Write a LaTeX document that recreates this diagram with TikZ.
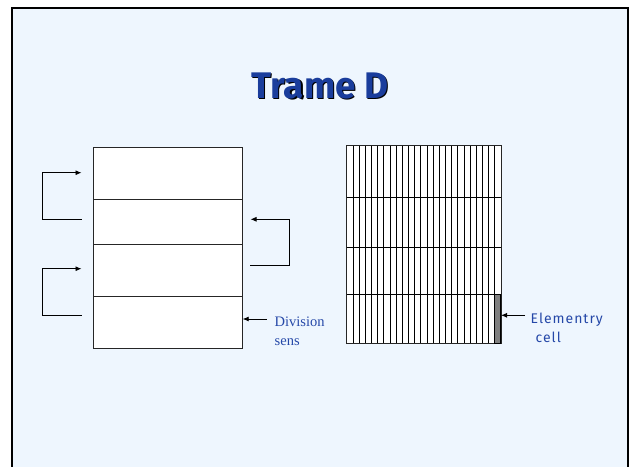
\documentclass[tikz,border=0pt]{standalone}
\usepackage{fontspec}
\setmainfont{Liberation Serif}
\newfontfamily\titlefont{Fira Sans}
\usetikzlibrary{arrows.meta,positioning}
\definecolor{slidebg}{HTML}{EEF6FE}
\definecolor{titleblue}{HTML}{1A3D9C}
\definecolor{noteblue}{HTML}{2548A8}
\tikzstyle{row}=[draw=black!85, fill=white, line width=0.8pt, minimum width=149.4pt, inner sep=0pt, outer sep=0pt, anchor=north west]
\tikzstyle{loop}=[-{Latex[length=6pt,width=5pt]}, line width=0.8pt]
\tikzstyle{note}=[text=noteblue, align=left, anchor=west, inner sep=0pt]

\begin{document}
\begin{tikzpicture}[x=1pt,y=-1pt]
    \useasboundingbox (0,0) rectangle (631,466);
    \fill[white] (0,0) rectangle (631,466);
    \filldraw[fill=slidebg, draw=black, line width=2pt] (12,8) rectangle (628,480);
    % title with its shadow
    \node[font=\titlefont\bfseries\fontsize{37}{40}\selectfont, text=black] at (321.3,87.3) {Trame D};
    \node[font=\titlefont\bfseries\fontsize{37}{40}\selectfont, text=titleblue] (title) at (320,86) {Trame D};
    % left block
    \node[row, minimum height=52pt] (r1) at (93.3,147.3) {};
    \node[row, minimum height=45pt, below=0pt of r1] (r2) {};
    \node[row, minimum height=52.4pt, below=0pt of r2] (r3) {};
    \node[row, minimum height=52pt, below=0pt of r3] (r4) {};
    \coordinate (a1) at (81.5,219.3);
    \coordinate (b1) at (81.5,172.7);
    \coordinate (a2) at (81.5,315.3);
    \coordinate (b2) at (81.5,268.7);
    \coordinate (a3) at (250,265.3);
    \coordinate (b3) at (250.5,219.3);
    \coordinate (d) at (266.7,319);
    \draw[loop] (a1) -- (42.3,219.3) -- (42.3,172.7) -- (b1);
    \draw[loop] (a2) -- (42.3,315.3) -- (42.3,268.7) -- (b2);
    \draw[loop] (a3) -- (289.3,265.3) -- (289.3,219.3) -- (b3);
    \draw[loop] (d) -- (r4.east |- d);
    \node[note, font=\fontsize{14.5}{19}\selectfont] (division) at (274.5,331.5) {Division\\sens};
    % right block
    \node[row, fill=white, minimum width=154.3pt, minimum height=197.6pt] (grid) at (346.7,145.7) {};
    \foreach \y in {197,247,294.7}
      \draw[line width=0.8pt] (346.7,\y) -- (501,\y);
    \foreach \i in {1,...,24}
      \draw[line width=0.7pt] (346.7+\i*6.172,145.7) -- ++(0,197.6);
    \node[draw, fill=gray, line width=0.8pt, minimum width=6.2pt, minimum height=48.6pt, inner sep=0pt, anchor=south east] (cell) at (grid.south east) {};
    \coordinate (e) at (525,315.3);
    \draw[loop] (e) -- (cell.east |- e);
    \node[note, font=\titlefont\addfontfeatures{LetterSpace=7}\fontsize{14}{19}\selectfont] (elem) at (530.5,328) {Elementry\\\hspace*{5pt}cell};
\end{tikzpicture}
\end{document}
